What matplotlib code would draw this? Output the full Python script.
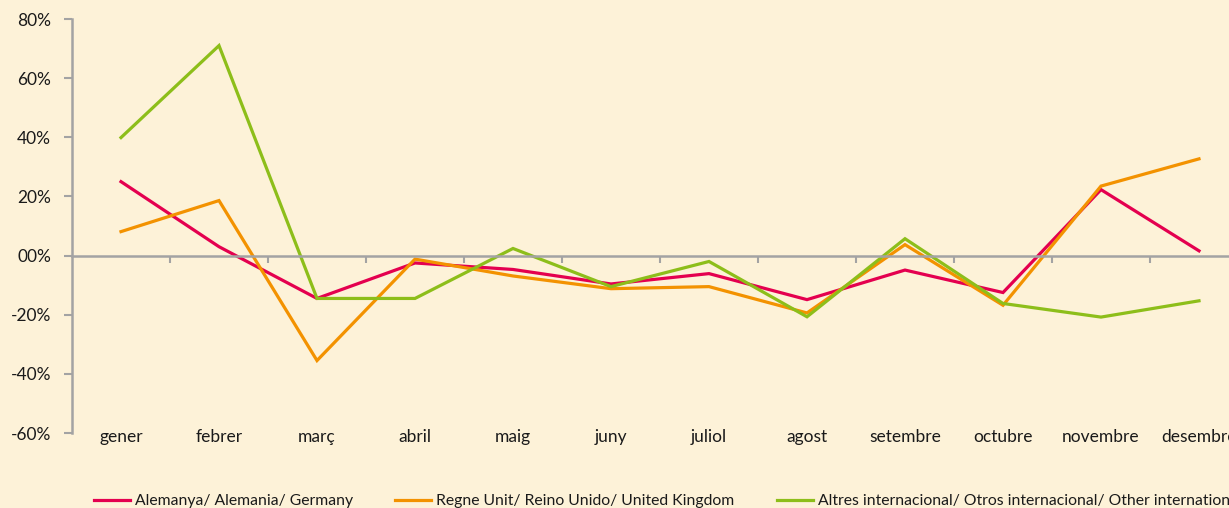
import matplotlib.pyplot as plt
from matplotlib.ticker import FixedLocator, FuncFormatter

meses = ["gener", "febrer", "març", "abril", "maig", "juny", "juliol",
         "agost", "setembre", "octubre", "novembre", "desembre"]

# variació interanual (%)
alemanya = [25.0, 3.0, -14.5, -2.5, -4.7, -9.6, -6.1, -14.9, -4.9, -12.5, 22.3, 1.6]
regne_unit = [8.1, 18.6, -35.5, -1.2, -6.9, -11.2, -10.5, -19.4, 3.7, -16.8, 23.5, 32.7]
altres = [39.9, 71.0, -14.5, -14.5, 2.4, -10.5, -2.0, -20.7, 5.7, -16.2, -20.8, -15.3]

etiquetes = ["Alemanya/ Alemania/ Germany",
             "Regne Unit/ Reino Unido/ United Kingdom",
             "Altres internacional/ Otros internacional/ Other international"]
colors = ["#E4004F", "#F39200", "#8DBE1A"]

fons = "#FDF2D8"
gris = "#A3A3A3"
negre = "#1A1A1A"

plt.rcParams['font.family'] = ['Lato', 'DejaVu Sans']

fig = plt.figure(figsize=(12.29, 5.08), dpi=100, facecolor=fons)
ax = fig.add_axes([72 / 1229, 75 / 508, 1176 / 1229, 414 / 508])
ax.set_facecolor(fons)

x = list(range(len(meses)))
for serie, lab, c in zip([alemanya, regne_unit, altres], etiquetes, colors):
    ax.plot(x, serie, color=c, lw=2.3, label=lab, solid_joinstyle='miter')

ax.set_xlim(-0.5, 11.5)
ax.set_ylim(-60, 80)

# eix Y
ax.set_yticks(range(-60, 81, 20))
ax.yaxis.set_major_formatter(FuncFormatter(lambda v, p: "%02d%%" % v if v >= 0 else "-%02d%%" % -v))
ax.tick_params(axis='y', direction='out', length=6, width=1.5, color=gris,
               labelsize=12.5, labelcolor=negre, pad=9)

# eix X sobre el zero
for s in ['top', 'right']:
    ax.spines[s].set_visible(False)
ax.spines['left'].set_color(gris)
ax.spines['left'].set_linewidth(1.8)
ax.spines['bottom'].set_position(('data', 0))
ax.spines['bottom'].set_color(gris)
ax.spines['bottom'].set_linewidth(1.8)
ax.set_xticks([])
ax.xaxis.set_minor_locator(FixedLocator([i + 0.5 for i in range(11)]))
ax.tick_params(axis='x', which='minor', direction='out', length=5, width=1.5, color=gris)

for i, m in enumerate(meses):
    ax.text(i, -61.3, m, ha='center', va='center', fontsize=12.5, color=negre)

fig.legend(loc='center left', bbox_to_anchor=(94 / 1229, 1 - 501 / 508), ncol=3,
           frameon=False, fontsize=11.3, handlelength=2.3, handletextpad=0.3,
           columnspacing=2.7, borderpad=0, borderaxespad=0, labelcolor=negre)

fig.savefig("out.png", dpi=100, facecolor=fons)
